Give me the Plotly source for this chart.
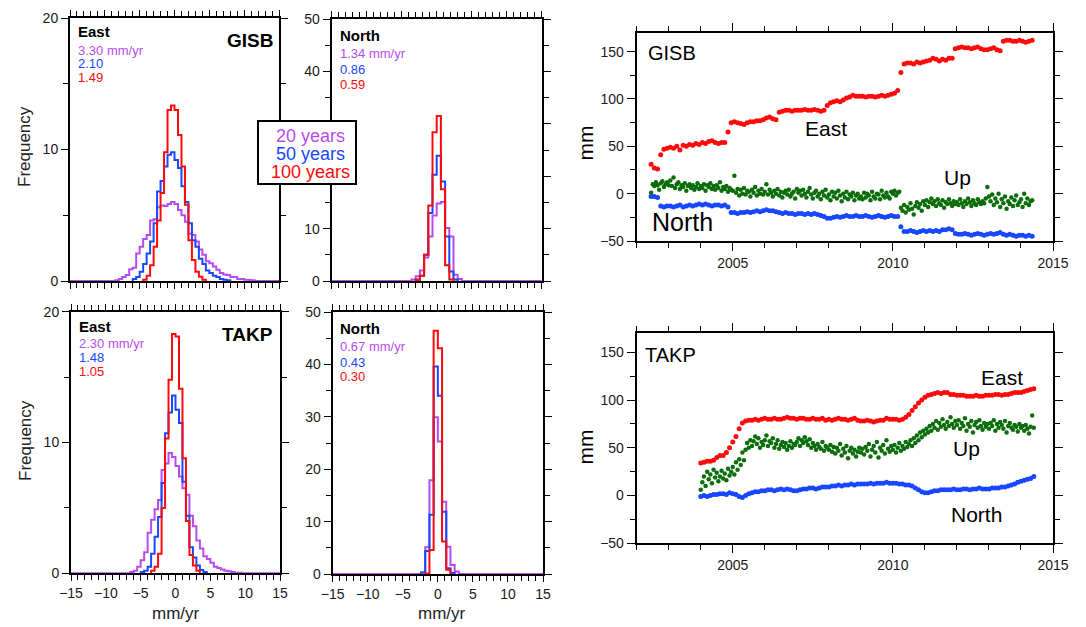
import plotly.graph_objects as go

W, H = 1086, 627
OFF = 8   # the page body margin shifts the figure by 8 px right and down
FONT = "Liberation Sans, Arial, Helvetica, sans-serif"
PURPLE = "#b84bf0"
BLUE = "#1747ff"
RED = "#ff0a0a"
GREEN = "#0b6e0b"

# ---------------- histogram data (Frequency, % per bin) ----------------
EAST_BIN = 0.5     # bin width of the East histograms (mm/yr)
NORTH_BIN = 0.6    # bin width of the North histograms (mm/yr)

# GISB East
gisb_e20_start = -8.5
gisb_e20 = [0.05, 0.15, 0.3, 0.45, 0.9, 1.0, 2.1, 2.6, 3.2, 3.5, 4.6, 4.7, 5.6, 5.75, 5.7, 5.85,
            6.0, 5.85, 5.4, 5.0, 4.5, 3.6, 3.5, 3.0, 2.4, 2.0, 1.5, 1.35, 1.1, 0.85, 0.6, 0.5,
            0.45, 0.3, 0.3, 0.15, 0.15, 0.1, 0.08, 0.05]
gisb_e50_start = -6.0
gisb_e50 = [0.15, 0.3, 0.7, 1.3, 2.1, 3.0, 4.4, 6.8, 7.6, 8.7, 9.6, 9.8, 9.2, 8.6, 7.2, 6.0,
            4.4, 3.1, 2.6, 1.7, 1.3, 0.8, 0.6, 0.4, 0.3, 0.15, 0.1, 0.05]
gisb_e100_start = -4.5
gisb_e100 = [0.1, 0.4, 1.2, 2.6, 4.6, 6.7, 9.8, 13.0, 13.35, 13.0, 11.1, 8.7, 5.8, 3.1, 1.6,
             0.7, 0.33, 0.1]

# GISB North
gisb_n20_start = -3.6
gisb_n20 = [0.3, 0.9, 2.0, 4.5, 8.5, 12.5, 14.8, 15.1, 10.1, 8.5, 1.2, 0.4]
gisb_n50_start = -3.0
gisb_n50 = [0.3, 1.0, 5.0, 13.0, 20.3, 23.9, 19.0, 8.5, 1.8, 0.3]
gisb_n100_start = -3.0
gisb_n100 = [0.2, 1.0, 5.0, 14.4, 28.4, 31.5, 17.5, 3.0, 0.3]

# TAKP East
takp_e20_start = -6.5
takp_e20 = [0.1, 0.2, 0.5, 1.0, 1.6, 3.1, 4.1, 4.9, 5.6, 7.9, 8.4, 9.2, 8.9, 8.2, 7.4, 6.5,
            6.0, 4.4, 3.6, 2.5, 1.9, 1.3, 1.1, 0.8, 0.5, 0.4, 0.3, 0.2, 0.15, 0.1, 0.05, 0.05]
takp_e50_start = -5.0
takp_e50 = [0.1, 0.2, 0.5, 1.5, 2.8, 4.3, 6.9, 10.7, 12.3, 13.6, 12.5, 11.5, 7.0, 4.4, 2.0,
            1.2, 0.6, 0.25, 0.1]
takp_e100_start = -3.5
takp_e100 = [0.2, 0.5, 1.5, 5.0, 10.3, 14.8, 18.3, 18.1, 14.1, 8.8, 4.0, 1.4, 0.6, 0.2]

# TAKP North
takp_n20_start = -2.4
takp_n20 = [0.3, 5.1, 17.9, 29.9, 25.3, 13.8, 5.2, 1.7, 0.5]
takp_n50_start = -2.4
takp_n50 = [0.3, 4.4, 11.3, 39.6, 34.0, 11.9, 1.1, 0.2]
takp_n100_start = -1.8
takp_n100 = [0.1, 4.6, 46.4, 43.1, 6.2, 0.8]

# ---------------- GPS time series (mm) ----------------
# GISB: East / North sampled every 0.1 yr from 2002.45, Up every 0.05 yr from 2002.45
gisb_start = 2002.45
gisb_step_en = 0.1
gisb_step_up = 0.05
gisb_east = [31, 27, 26, 41, 47, 48,
             49, 48, 50, 46, 51, 50, 52, 51, 53, 52,
             54, 53, 55, 56, 54, 53, 54, 54, 65, 75,
             76, 75, 74, 73, 75, 76, 76, 77, 77, 78,
             80, 81, 79, 78, 86, 87, 88, 88, 87, 88,
             88, 88, 89, 88, 88, 89, 88, 87, 88, 93,
             96, 97, 98, 97, 99, 101, 102, 104, 103, 103,
             103, 102, 103, 103, 102, 103, 104, 103, 104, 105,
             106, 109, 128, 137, 138, 138, 137, 139, 138, 139,
             140, 141, 143, 142, 140, 142, 141, 143, 143, 153,
             154, 155, 154, 154, 153, 154, 155, 153, 152, 152,
             153, 154, 152, 151, 161, 162, 162, 161, 161, 162,
             161, 160, 161, 162]
gisb_north = [-3, -3, -4, -13, -14, -13,
              -13, -14, -13, -12, -14, -13, -12, -13, -12, -11,
              -12, -11, -12, -13, -12, -12, -13, -12, -14, -20,
              -20, -21, -20, -20, -19, -20, -19, -18, -19, -18,
              -17, -18, -18, -19, -20, -21, -20, -21, -21, -22,
              -21, -21, -22, -21, -22, -21, -22, -23, -24, -26,
              -26, -25, -24, -25, -24, -23, -24, -24, -23, -24,
              -24, -23, -24, -25, -24, -23, -24, -25, -24, -23,
              -24, -24, -35, -40, -40, -39, -40, -41, -40, -39,
              -40, -39, -40, -39, -40, -38, -38, -37, -38, -42,
              -43, -43, -42, -43, -44, -43, -42, -43, -44, -43,
              -42, -43, -42, -41, -43, -44, -43, -44, -45, -44,
              -44, -45, -44, -45]
gisb_up = [1, 10, 8, 12, 9, 4, 11, 13, 7, 10, 12,
           9, 14, 8, 17, 6, 10, 12, 5, 9, 7, 11, 3, 8, 10, 6, 9, 4, 7, 11, 5,
           8, 6, 10, 3, 9, 7, 11, 5, 8, 4, 9, 6, 12, 3, 7, 5, 8, 2, 6, 4,
           3, 19, 1, 5, -2, 4, 0, 6, -1, 3, 2, -3, 4, 1, 7, -2, 3, 0, 5, -1,
           2, 10, -1, 4, 1, -3, 3, 0, 5, -2, 2, -4, 1, 3, -1, 4, -3, 0, 2, -5,
           5, 1, 3, -2, 4, 0, -4, 2, 6, -1, -5, 1, 3, -3, 0, -6, 2, -2, 4, -4,
           -1, -7, 2, -3, 1, -5, 3, -2, -8, 0, -4, 2, -6, -1, -3, 1, -7, -2, 0, -5,
           -3, -6, 1, -4, 0, -2, -7, 2, -3, -5, 0, -1, -6, 3, -2, -4, 1, -3, -5, 2,
           0, 3, -2, 1, 2, -15, -18, -12, -20, -14, -17, -10, -16, -22, -13, -9, -15, -11, -18, -8,
           -12, -7, -14, -9, -5, -11, -8, -13, -6, -10, -12, -7, -15, -9, -11, -6, -10, -13, -8, -11,
           -9, -12, -6, -10, -14, -8, -11, -5, -9, -13, -7, -10, -12, -6, -9, -11, -8, -10, -5, 7,
           -3, -8, -1, -12, -5, -9, 0, -14, -6, -10, -3, -16, -8, -11, -4, -13, -7, -2, -12, -9,
           -6, -14, 0, -10, -5, -12, -8, -7]

# TAKP: East / North every 0.1 yr from 2004.0, Up every 0.05 yr from 2004.0
takp_start = 2004.0
takp_step_en = 0.1
takp_step_up = 0.05
takp_east = [34, 35, 36, 36, 37, 40, 42, 42, 45, 50,
             56, 62, 70, 76, 78, 79, 79, 80, 79, 80,
             81, 80, 80, 81, 80, 80, 81, 82, 81, 81,
             80, 81, 81, 80, 80, 81, 80, 80, 81, 79,
             80, 79, 80, 81, 80, 80, 79, 80, 81, 79,
             78, 78, 79, 78, 77, 78, 79, 79, 81, 80,
             80, 80, 79, 80, 82, 85, 89, 93, 97, 100,
             103, 105, 106, 107, 108, 107, 108, 108, 106, 106,
             105, 105, 105, 104, 104, 104, 105, 104, 104, 105,
             105, 105, 106, 106, 105, 106, 106, 107, 108, 108,
             108, 109, 110, 111, 112]
takp_north = [-1, 0, -1, 0, 1, 1, 2, 2, 1, 3,
              2, 1, -1, -2, 0, 2, 3, 4, 4, 5,
              5, 6, 6, 5, 6, 7, 6, 7, 6, 5,
              5, 6, 7, 7, 8, 8, 7, 8, 9, 9,
              9, 10, 10, 11, 10, 11, 11, 12, 11, 12,
              12, 12, 12, 13, 12, 13, 13, 13, 14, 13,
              13, 13, 12, 12, 11, 11, 10, 8, 6, 4,
              3, 3, 4, 5, 5, 6, 6, 6, 6, 7,
              6, 6, 7, 7, 6, 7, 7, 8, 7, 7,
              7, 8, 8, 8, 9, 9, 10, 11, 12, 14,
              15, 16, 17, 18, 20]
takp_up = [6, 14, 20, 10, 25, 17, 22, 13, 27, 19, 24, 15, 20, 26, 18, 23, 16, 28, 21, 25,
           30, 22, 35, 27, 38, 32, 45, 37, 48, 55, 50, 58, 52, 57, 62, 54, 60, 50, 56, 53,
           58, 63, 52, 57, 55, 60, 50, 54, 58, 49, 53, 56, 51, 55, 48, 52, 57, 50, 54, 53,
           56, 60, 52, 58, 55, 61, 57, 53, 59, 50, 55, 52, 48, 54, 51, 49, 56, 47, 52, 50,
           48, 53, 46, 51, 44, 50, 47, 54, 42, 49, 45, 52, 39, 47, 50, 44, 48, 41, 46, 50,
           45, 49, 43, 51, 47, 54, 41, 48, 52, 45, 56, 40, 50, 47, 53, 44, 58, 49, 46, 52,
           48, 53, 45, 50, 55, 47, 52, 49, 56, 51, 54, 58, 52, 60, 55, 63, 58, 66, 61, 68,
           64, 70, 66, 73, 68, 75, 71, 78, 69, 76, 72, 80, 74, 70, 77, 73, 82, 75, 71, 78,
           74, 79, 70, 76, 73, 81, 68, 75, 72, 78, 66, 74, 77, 71, 79, 73, 69, 76, 72, 75,
           70, 76, 73, 79, 68, 75, 71, 77, 74, 70, 78, 66, 73, 76, 71, 69, 74, 72, 67, 75,
           71, 73, 68, 74, 70, 65, 72, 84, 71]

# text content
period_labels = ["20 years", "50 years", "100 years"]
period_colors = [PURPLE, BLUE, RED]
hist_rms = {"A": ["3.30 mm/yr", "2.10", "1.49"], "B": ["1.34 mm/yr", "0.86", "0.59"],
            "C": ["2.30 mm/yr", "1.48", "1.05"], "D": ["0.67 mm/yr", "0.43", "0.30"]}


# ---------------- helpers ----------------
def px(x):
    return (x - OFF) / W


def py(y):
    return 1 - (y - OFF) / H


def step_xy(start, width, vals, full=False):
    edges = [round(start + width * i, 4) for i in range(len(vals) + 1)]
    xs = [edges[0]] + edges
    ys = [0] + list(vals) + [0]
    if full:
        xs = [-15] + xs + [15]
        ys = [0] + ys + [0]
    return xs, ys


def epochs(start, step, n):
    return [round(start + step * i, 3) for i in range(n)]


fig = go.Figure()

hist_sets = [
    ("", EAST_BIN, [(gisb_e20_start, gisb_e20), (gisb_e50_start, gisb_e50), (gisb_e100_start, gisb_e100)]),
    ("2", NORTH_BIN, [(gisb_n20_start, gisb_n20), (gisb_n50_start, gisb_n50), (gisb_n100_start, gisb_n100)]),
    ("3", EAST_BIN, [(takp_e20_start, takp_e20), (takp_e50_start, takp_e50), (takp_e100_start, takp_e100)]),
    ("4", NORTH_BIN, [(takp_n20_start, takp_n20), (takp_n50_start, takp_n50), (takp_n100_start, takp_n100)]),
]
for ax_id, bw, series in hist_sets:
    for k, (st, vals) in enumerate(series):
        xx, yy = step_xy(st, bw, vals, full=(k == 0))
        fig.add_trace(go.Scatter(x=xx, y=yy, mode="lines", line=dict(color=period_colors[k], width=2, shape="hv"),
                                 xaxis="x" + ax_id, yaxis="y" + ax_id, hoverinfo="skip"))

ts_sets = [
    ("5", gisb_start, [(gisb_up, gisb_step_up, GREEN, 4.5), (gisb_north, gisb_step_en, BLUE, 5), (gisb_east, gisb_step_en, RED, 5)]),
    ("6", takp_start, [(takp_up, takp_step_up, GREEN, 4.5), (takp_north, takp_step_en, BLUE, 5), (takp_east, takp_step_en, RED, 5)]),
]
for ax, t0, series in ts_sets:
    for vals, stp, col, sz in series:
        fig.add_trace(go.Scatter(x=epochs(t0, stp, len(vals)), y=vals, mode="markers",
                                 marker=dict(color=col, size=sz, line=dict(width=0)),
                                 xaxis="x" + ax, yaxis="y" + ax, hoverinfo="skip"))

tickfont = dict(family=FONT, size=14, color="#1a1a1a")


def axis(domain, anchor, rng, dtick, mdtick, ticklen, mlen, labels=True, tick0=0, **kw):
    d = dict(domain=domain, anchor=anchor, range=rng, dtick=dtick, tick0=tick0,
             showline=True, linewidth=2, linecolor="black", mirror="allticks",
             ticks="outside", ticklen=ticklen, tickwidth=1.3, tickcolor="black",
             showgrid=False, zeroline=False, showticklabels=labels, tickfont=tickfont,
             minor=dict(dtick=mdtick, ticks="outside", ticklen=mlen, tickwidth=1.2, tickcolor="black", showgrid=False),
             automargin=False, fixedrange=True)
    d.update(kw)
    return d


# panel pixel boxes on the page (left, right, top, bottom)
A = (70, 279, 18, 281)
B = (331.7, 541.7, 19, 281)
C = (71, 280, 311.7, 573.3)
D = (332.7, 543, 312, 574)
E = (636.7, 1053, 32.7, 241)
F = (636.7, 1053, 333.3, 543.3)


def xd(b):
    return [px(b[0]), px(b[1])]


def yd(b):
    return [py(b[3]), py(b[2])]


# the legend box hides the 20 and 30 labels of the GISB North axis
b_vals = [0, 10, 20, 30, 40, 50]
b_text = ["0", "10", "", "", "40", "50"]

fig.update_layout(
    width=W, height=H, margin=dict(l=0, r=0, t=0, b=0, autoexpand=False),
    paper_bgcolor="white", plot_bgcolor="white", showlegend=False,
    font=dict(family=FONT, color="black"),
    xaxis=axis(xd(A), "y", [-15, 15], 5, 1, 6, 5, labels=False),
    yaxis=axis(yd(A), "x", [0, 20], 10, 5, 7, 5),
    xaxis2=axis(xd(B), "y2", [-15, 15], 5, 1, 6, 5, labels=False),
    yaxis2=axis(yd(B), "x2", [0, 50], 10, 5, 7, 5, tickmode="array", tickvals=b_vals, ticktext=b_text),
    xaxis3=axis(xd(C), "y3", [-15, 15], 5, 1, 6, 5),
    yaxis3=axis(yd(C), "x3", [0, 20], 10, 5, 7, 5),
    xaxis4=axis(xd(D), "y4", [-15, 15], 5, 1, 6, 5),
    yaxis4=axis(yd(D), "x4", [0, 50], 10, 5, 7, 5),
    xaxis5=axis(xd(E), "y5", [2002, 2015], 5, 1, 8, 5, tick0=2005),
    yaxis5=axis(yd(E), "x5", [-50, 170], 50, 25, 8, 5),
    xaxis6=axis(xd(F), "y6", [2002, 2015], 5, 1, 8, 5, tick0=2005),
    yaxis6=axis(yd(F), "x6", [-50, 170], 50, 25, 8, 5),
)

ann = []


def text(x, y, s, size, color="black", xanchor="left", angle=0):
    ann.append(dict(x=px(x), y=py(y), xref="paper", yref="paper", text=s, showarrow=False,
                    xanchor=xanchor, yanchor="middle", textangle=angle, borderpad=0,
                    font=dict(family=FONT, size=size, color=color)))


# histogram panel texts
panel_text = [
    ("A", 77, [32, 50.5, 64, 77.5], "East", "GISB", 40),
    ("B", 339, [35.5, 53, 69.5, 84.5], "North", None, None),
    ("C", 78, [326.7, 343.5, 357.5, 371.5], "East", "TAKP", 335),
    ("D", 339, [328, 346.7, 362.7, 376.7], "North", None, None),
]
for key, x0, ys, comp, station, sy in panel_text:
    text(x0, ys[0], "<b>%s</b>" % comp, 15)
    for k in range(3):
        text(x0, ys[k + 1], hist_rms[key][k], 13, period_colors[k])
    if station:
        text(274, sy, "<b>%s</b>" % station, 19, xanchor="right")

# legend box texts
for k, (lab, yy) in enumerate(zip(period_labels, [136, 154, 172])):
    text(310, yy, lab, 18, period_colors[k], xanchor="center")

# axis titles
text(25, 147, "Frequency", 17, "#222", xanchor="center", angle=-90)
text(25, 441, "Frequency", 17, "#222", xanchor="center", angle=-90)
text(176, 613, "mm/yr", 17, "#222", xanchor="center")
text(442, 613, "mm/yr", 17, "#222", xanchor="center")
text(585, 143.5, "mm", 21, "black", xanchor="center", angle=-90)
text(585, 447.5, "mm", 21, "black", xanchor="center", angle=-90)

# time series labels
text(647, 53, "GISB", 20)
text(826, 128, "East", 21, xanchor="center")
text(957, 178, "Up", 21, xanchor="center")
text(682, 222, "North", 25, xanchor="center")
text(644, 355, "TAKP", 20)
text(1002, 377, "East", 21, xanchor="center")
text(966, 448, "Up", 21, xanchor="center")
text(976, 514, "North", 21, xanchor="center")

fig.update_layout(annotations=ann)

fig.add_shape(type="rect", xref="paper", yref="paper", x0=px(258), x1=px(356), y0=py(184), y1=py(121),
              line=dict(color="black", width=2), fillcolor="white", layer="above")

fig.write_html("out.html")
